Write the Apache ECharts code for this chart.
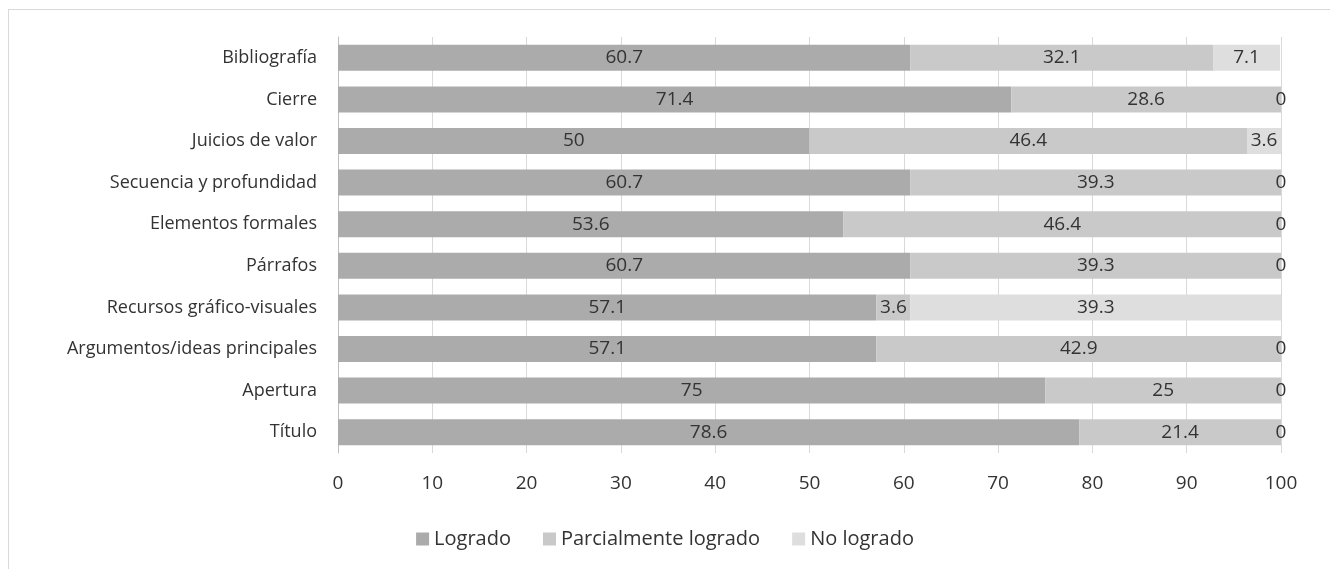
<!DOCTYPE html>
<html>
<head>
<meta charset="utf-8">
<script src="https://cdn.jsdelivr.net/npm/echarts@6/dist/echarts.min.js"></script>
<style>
  html, body { margin: 0; padding: 0; background: #fff; }
  #frame { position: absolute; left: 8px; top: 9px; width: 1330px; height: 569px;
           border-left: 1px solid #d9d9d9; border-top: 1px solid #d9d9d9; }
  #chart { position: absolute; left: 0; top: 0; width: 1330px; height: 569px; }
</style>
</head>
<body>
<div id="frame"></div>
<div id="chart"></div>
<script>
    // categorias de abajo hacia arriba
    var categorias = ['Título', 'Apertura', 'Argumentos/ideas principales', 'Recursos gráfico-visuales',
        'Párrafos', 'Elementos formales', 'Secuencia y profundidad', 'Juicios de valor', 'Cierre', 'Bibliografía']
    var logrado = [78.6, 75, 57.1, 57.1, 60.7, 53.6, 60.7, 50, 71.4, 60.7]
    var parcial = [21.4, 25, 42.9, 3.6, 39.3, 46.4, 39.3, 46.4, 28.6, 32.1]
    var noLogrado = [0, 0, 0, 39.3, 0, 0, 0, 3.6, 0, 7.1]
    var ticks = [0, 10, 20, 30, 40, 50, 60, 70, 80, 90, 100]

    var fuente = '"Open Sans", "Liberation Sans", sans-serif'
    var chart = echarts.init(document.getElementById('chart'))

    var etiqueta = {
        show: true,
        position: 'inside',
        color: '#333',
        fontSize: 19,
        fontFamily: fuente
    }

    chart.setOption({
        animation: false,
        textStyle: { fontFamily: fuente },
        grid: { left: 338, right: 49, top: 37, bottom: 116 },
        legend: {
            top: 524,
            left: 'center',
            itemWidth: 13,
            itemHeight: 13,
            itemGap: 32,
            icon: 'rect',
            textStyle: { color: '#333', fontSize: 20, fontFamily: fuente },
            data: ['Logrado', 'Parcialmente logrado', 'No logrado']
        },
        xAxis: {
            type: 'value',
            min: ticks[0],
            max: ticks[ticks.length - 1],
            interval: 10,
            axisLine: { show: false },
            axisTick: { show: false },
            axisLabel: { color: '#333', fontSize: 19, margin: 21 },
            splitLine: { lineStyle: { color: '#d9d9d9' } }
        },
        yAxis: {
            type: 'category',
            data: categorias,
            axisLine: { show: true, lineStyle: { color: '#bfbfbf' } },
            axisTick: { show: false },
            axisLabel: { color: '#333', fontSize: 18, margin: 21 }
        },
        series: [
            { name: 'Logrado', type: 'bar', stack: 't', data: logrado, barWidth: 26,
              itemStyle: { color: '#ababab' }, label: etiqueta },
            { name: 'Parcialmente logrado', type: 'bar', stack: 't', data: parcial, barWidth: 26,
              itemStyle: { color: '#c9c9c9' }, label: etiqueta },
            { name: 'No logrado', type: 'bar', stack: 't', data: noLogrado, barWidth: 26,
              itemStyle: { color: '#dedede' }, label: etiqueta }
        ]
    })
</script>
</body>
</html>
